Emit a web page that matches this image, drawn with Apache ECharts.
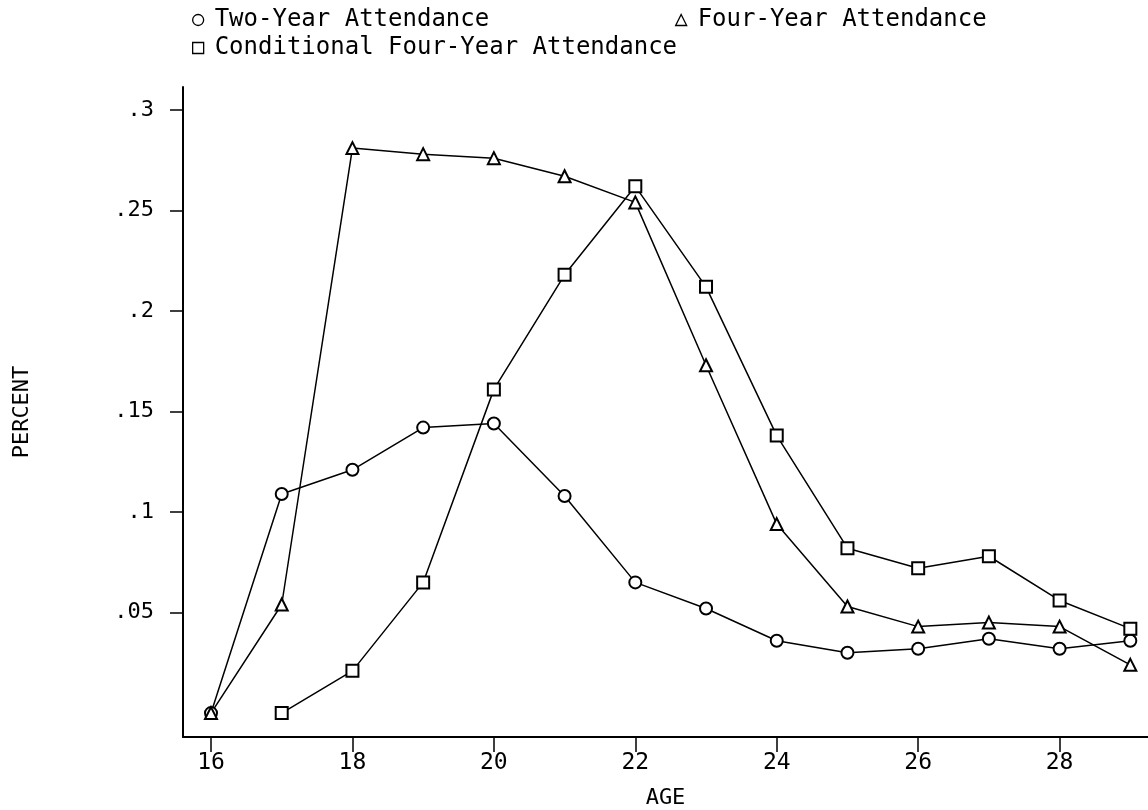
<!DOCTYPE html>
<html>
<head>
<meta charset="utf-8">
<script src="https://cdn.jsdelivr.net/npm/echarts@6/dist/echarts.min.js"></script>
<style>html,body{margin:0;padding:0;background:#fff}#chart{width:1148px;height:810px}</style>
</head>
<body>
<div id="chart"></div>
<script>
const ages = [16,17,18,19,20,21,22,23,24,25,26,27,28,29];
const twoYear = [0.000,0.109,0.121,0.142,0.144,0.108,0.065,0.052,0.036,0.030,0.032,0.037,0.032,0.036];
const fourYear = [0.000,0.054,0.281,0.278,0.276,0.267,0.254,0.173,0.094,0.053,0.043,0.045,0.043,0.024];
const condAges = [17,18,19,20,21,22,23,24,25,26,27,28,29];
const condFourYear = [0.000,0.021,0.065,0.161,0.218,0.262,0.212,0.138,0.082,0.072,0.078,0.056,0.042];
const xTicks = [16,18,20,22,24,26,28];
const yTicks = [0.05,0.1,0.15,0.2,0.25,0.3];
const names = ['Two-Year Attendance','Four-Year Attendance','Conditional Four-Year Attendance'];

const FONT = 'DejaVu Sans Mono';
const pair = (xs, ys) => xs.map((x,i)=>[x, ys[i]]);

const chart = echarts.init(document.getElementById('chart'));
const lineStyle = {color:'#000', width:1.5};
const itemStyle = {color:'#000', borderColor:'#000', borderWidth:1.5};
const legendCommon = {
  itemWidth: 11, itemHeight: 11, itemGap: 10,
  textStyle: {fontFamily: FONT, fontSize: 24, color:'#000', padding:[0,0,0,6]},
  itemStyle: {color:'#fff', borderColor:'#000', borderWidth:1.3}
};
chart.setOption({
  animation: false,
  backgroundColor: '#fff',
  grid: {left:183, right:0, top:87, bottom:73, containLabel:false, outerBoundsMode:'none'},
  legend: [
    Object.assign({data:[{name:names[0], icon:'circle'}], left:187, top:3}, legendCommon),
    Object.assign({data:[{name:names[1], icon:'triangle'}], left:670, top:3}, legendCommon),
    Object.assign({data:[{name:names[2], icon:'rect'}], left:187, top:31}, legendCommon)
  ],
  xAxis: {
    type:'value', min:15.604, max:29.25,
    name:'AGE', nameLocation:'middle', nameGap:50,
    nameTextStyle:{fontFamily:FONT, fontSize:22, color:'#000'},
    axisLine:{onZero:false, lineStyle:{color:'#000', width:2}},
    axisTick:{customValues:xTicks, length:15, lineStyle:{color:'#000', width:1.5}},
    axisLabel:{customValues:xTicks, margin:15, fontFamily:FONT, fontSize:23, color:'#000'},
    splitLine:{show:false}
  },
  yAxis: {
    type:'value', min:-0.0119, max:0.3114,
    name:'PERCENT', nameLocation:'middle', nameGap:150, nameRotate:90,
    nameTextStyle:{fontFamily:FONT, fontSize:22, color:'#000'},
    axisLine:{show:true, onZero:false, lineStyle:{color:'#000', width:2}},
    axisTick:{show:true, customValues:yTicks, length:13, lineStyle:{color:'#000', width:1.5}},
    axisLabel:{customValues:yTicks, margin:29, fontFamily:FONT, fontSize:22, color:'#000',
      formatter: v => String(+v.toFixed(2)).replace(/^0/, '')},
    splitLine:{show:false}
  },
  series: [
    {name:names[0], type:'line', data:pair(ages,twoYear), symbol:'emptyCircle', symbolSize:12,
     lineStyle, itemStyle, z:3},
    {name:names[1], type:'line', data:pair(ages,fourYear), symbol:'emptyTriangle', symbolSize:12,
     lineStyle, itemStyle, z:3},
    {name:names[2], type:'line', data:pair(condAges,condFourYear), symbol:'emptyRect', symbolSize:12,
     lineStyle, itemStyle, z:3}
  ]
});
</script>
</body>
</html>
